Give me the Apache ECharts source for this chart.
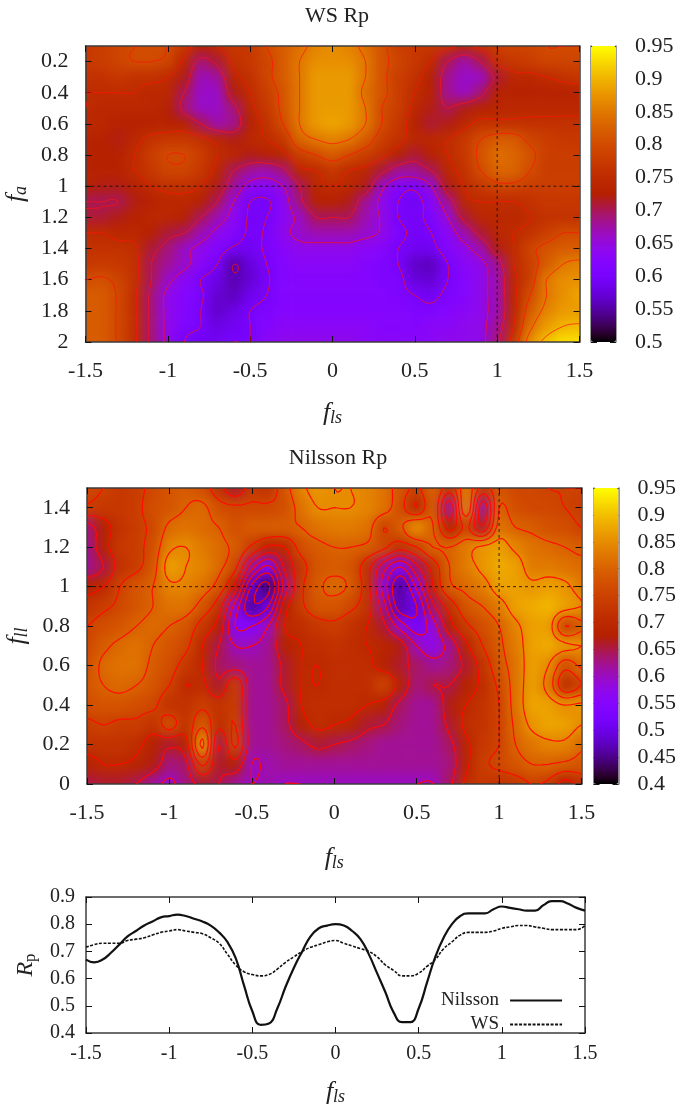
<!DOCTYPE html>
<html><head><meta charset="utf-8">
<style>
html,body{margin:0;padding:0;background:#fff;width:676px;height:1108px;overflow:hidden}
#under,#top{position:absolute;left:0;top:0;width:676px;height:1108px}
#clip{position:absolute;left:0;top:0;width:676px;height:1108px;
 clip-path:path('M85.5 46H579.5V342H85.5Z M87 488H581.5V784H87Z')}
#under{filter:blur(6px)}
</style>
<script src="https://cdn.jsdelivr.net/npm/echarts@6/dist/echarts.min.js"></script>
</head><body>
<div id="clip"><div id="under"></div></div>
<div id="top"></div>
<script>
const xCats=[-1.5,-1.4,-1.3,-1.2,-1.1,-1,-.9,-.8,-.7,-.6,-.5,-.4,-.3,-.2,-.1,0,.1,.2,.3,.4,.5,.6,.7,.8,.9,1,1.1,1.2,1.3,1.4,1.5];
const wsRows=[.1,.2,.3,.4,.5,.6,.7,.8,.9,1,1.1,1.2,1.3,1.4,1.5,1.6,1.7,1.8,1.9,2];
const wsGrid=[
[.77,.78,.79,.80,.80,.80,.77,.73,.75,.77,.77,.80,.82,.84,.86,.87,.86,.84,.81,.78,.77,.77,.76,.74,.76,.78,.79,.79,.80,.80,.80],
[.77,.78,.79,.80,.80,.79,.74,.69,.71,.76,.77,.79,.82,.85,.87,.87,.87,.85,.81,.79,.77,.75,.70,.67,.70,.76,.77,.78,.79,.79,.79],
[.76,.76,.77,.76,.76,.75,.72,.665,.675,.74,.76,.79,.82,.85,.88,.88,.88,.85,.81,.78,.76,.73,.68,.66,.66,.71,.74,.74,.75,.76,.77],
[.75,.75,.75,.75,.74,.74,.70,.66,.66,.72,.75,.78,.81,.85,.88,.88,.88,.84,.81,.78,.75,.73,.68,.66,.69,.73,.73,.73,.73,.73,.73],
[.75,.74,.74,.74,.74,.73,.69,.66,.66,.69,.74,.77,.81,.85,.88,.88,.88,.85,.80,.78,.74,.72,.70,.72,.73,.735,.74,.74,.74,.74,.74],
[.74,.74,.73,.73,.73,.73,.73,.70,.67,.68,.73,.76,.80,.85,.88,.89,.88,.85,.80,.77,.73,.71,.72,.74,.76,.76,.76,.76,.76,.76,.76],
[.73,.73,.72,.74,.76,.77,.77,.76,.74,.72,.74,.75,.77,.83,.85,.86,.85,.82,.78,.76,.74,.74,.75,.77,.80,.82,.82,.79,.78,.77,.77],
[.73,.73,.73,.75,.78,.80,.80,.78,.75,.74,.72,.73,.74,.78,.80,.82,.80,.78,.76,.73,.71,.73,.75,.77,.81,.84,.83,.81,.78,.78,.78],
[.73,.73,.73,.75,.77,.79,.79,.77,.74,.70,.68,.67,.69,.74,.75,.77,.75,.74,.71,.68,.68,.70,.74,.76,.80,.83,.83,.80,.78,.78,.78],
[.73,.72,.72,.73,.75,.76,.76,.75,.72,.68,.635,.63,.65,.70,.74,.75,.74,.72,.66,.62,.61,.65,.72,.75,.77,.79,.79,.78,.78,.78,.78],
[.70,.70,.70,.72,.73,.74,.74,.73,.70,.65,.60,.595,.63,.69,.73,.73,.72,.68,.64,.60,.59,.62,.68,.74,.75,.75,.75,.76,.77,.77,.77],
[.71,.71,.72,.73,.74,.74,.73,.70,.67,.635,.595,.60,.63,.66,.70,.70,.70,.67,.645,.60,.595,.61,.65,.71,.74,.74,.74,.75,.76,.76,.76],
[.75,.75,.74,.74,.73,.71,.70,.67,.64,.62,.595,.605,.64,.66,.67,.67,.67,.66,.645,.61,.595,.60,.63,.67,.71,.74,.75,.76,.78,.80,.80],
[.76,.76,.76,.755,.71,.69,.66,.64,.62,.595,.59,.605,.625,.64,.64,.64,.64,.63,.625,.60,.59,.59,.62,.64,.67,.72,.75,.79,.81,.82,.82],
[.77,.775,.77,.76,.70,.68,.66,.63,.60,.55,.575,.60,.62,.63,.63,.63,.63,.62,.61,.60,.565,.56,.60,.63,.64,.68,.75,.78,.82,.85,.86],
[.80,.805,.79,.76,.70,.66,.63,.60,.58,.555,.57,.595,.62,.62,.62,.62,.62,.62,.61,.61,.575,.57,.60,.62,.64,.67,.74,.78,.85,.87,.87],
[.82,.82,.795,.755,.69,.64,.62,.605,.57,.56,.585,.60,.62,.62,.62,.62,.62,.62,.62,.61,.60,.59,.61,.62,.64,.67,.74,.80,.85,.87,.89],
[.82,.82,.795,.755,.69,.64,.62,.60,.565,.58,.60,.61,.62,.62,.62,.62,.62,.62,.62,.62,.61,.61,.62,.63,.64,.67,.74,.82,.86,.88,.88],
[.82,.82,.795,.755,.69,.64,.61,.60,.58,.59,.60,.62,.63,.63,.63,.63,.63,.63,.62,.62,.62,.63,.63,.64,.64,.68,.75,.84,.88,.90,.905],
[.82,.82,.795,.755,.69,.64,.60,.59,.59,.60,.60,.63,.64,.64,.64,.64,.64,.63,.63,.63,.63,.63,.64,.64,.64,.69,.77,.87,.91,.93,.93]];
const nilRows=[1.5,1.4,1.3,1.2,1.1,1,.9,.8,.7,.6,.5,.4,.3,.2,.1,0];
const nilGrid=[
[.76,.75,.73,.74,.76,.78,.79,.77,.72,.66,.73,.72,.78,.84,.86,.85,.85,.84,.82,.78,.74,.80,.72,.83,.73,.78,.76,.76,.75,.75,.75],
[.74,.73,.73,.74,.77,.78,.80,.81,.77,.76,.76,.76,.77,.82,.85,.85,.85,.84,.82,.77,.70,.79,.62,.84,.62,.80,.77,.76,.76,.75,.74],
[.63,.68,.72,.74,.76,.81,.82,.81,.80,.77,.79,.79,.79,.80,.82,.83,.83,.82,.75,.79,.85,.80,.68,.76,.66,.82,.80,.79,.775,.77,.75],
[.62,.68,.73,.74,.77,.84,.85,.83,.81,.79,.74,.69,.70,.77,.79,.80,.80,.79,.76,.72,.75,.80,.80,.83,.86,.87,.84,.82,.81,.80,.79],
[.62,.65,.72,.74,.78,.87,.85,.84,.81,.76,.62,.54,.66,.73,.78,.79,.78,.72,.62,.55,.64,.72,.80,.83,.86,.88,.87,.83,.83,.82,.81],
[.68,.70,.75,.78,.80,.84,.84,.82,.78,.68,.49,.44,.62,.74,.79,.81,.79,.72,.58,.46,.56,.70,.79,.81,.83,.87,.87,.86,.87,.86,.83],
[.72,.74,.76,.78,.80,.82,.82,.78,.72,.58,.46,.50,.68,.74,.78,.78,.76,.72,.62,.47,.50,.64,.72,.78,.80,.83,.87,.88,.89,.87,.85],
[.75,.77,.78,.80,.81,.80,.78,.73,.68,.55,.55,.60,.70,.71,.73,.74,.72,.70,.66,.58,.52,.58,.68,.74,.77,.80,.84,.87,.87,.75,.79],
[.76,.79,.81,.82,.80,.78,.76,.70,.65,.60,.60,.62,.68,.70,.71,.72,.71,.70,.69,.67,.60,.57,.62,.69,.75,.79,.83,.87,.88,.86,.85],
[.77,.81,.82,.82,.79,.77,.73,.70,.64,.63,.62,.62,.66,.70,.70,.71,.71,.71,.68,.66,.64,.62,.63,.66,.72,.78,.82,.87,.85,.77,.81],
[.78,.80,.81,.80,.78,.75,.70,.71,.66,.74,.62,.62,.66,.70,.70,.71,.71,.71,.75,.68,.63,.65,.65,.68,.71,.76,.82,.87,.83,.71,.75],
[.77,.78,.78,.77,.76,.72,.72,.74,.72,.74,.62,.62,.64,.70,.71,.71,.71,.70,.68,.64,.62,.62,.67,.70,.72,.75,.82,.875,.87,.85,.86],
[.74,.75,.74,.74,.72,.77,.72,.79,.71,.75,.62,.62,.64,.68,.71,.70,.69,.66,.65,.63,.62,.62,.66,.71,.72,.75,.81,.86,.875,.87,.85],
[.72,.72,.72,.71,.68,.66,.68,.86,.65,.76,.62,.62,.63,.64,.66,.65,.64,.63,.62,.62,.62,.62,.64,.69,.73,.75,.80,.825,.84,.84,.81],
[.68,.70,.70,.69,.67,.63,.64,.76,.66,.68,.60,.61,.62,.62,.62,.62,.62,.62,.62,.62,.62,.62,.63,.69,.74,.76,.78,.80,.80,.79,.78],
[.65,.66,.66,.65,.62,.59,.63,.66,.65,.62,.60,.61,.60,.60,.60,.60,.60,.60,.60,.60,.60,.60,.64,.71,.73,.72,.73,.75,.74,.68,.72]];
const lineX=[-1.5,-1.45,-1.4,-1.35,-1.3,-1.25,-1.2,-1.15,-1.1,-1.05,-1,-.95,-.9,-.85,-.8,-.75,-.7,-.65,-.6,-.55,-.5,-.45,-.4,-.35,-.3,-.25,-.2,-.15,-.1,-.05,0,.05,.1,.15,.2,.25,.3,.35,.4,.45,.5,.55,.6,.65,.7,.75,.8,.85,.9,.95,1,1.05,1.1,1.15,1.2,1.25,1.3,1.35,1.4,1.45,1.5];
const nilsson=[.67,.66,.67,.695,.725,.755,.775,.795,.81,.825,.83,.835,.83,.82,.81,.795,.77,.735,.675,.575,.48,.43,.435,.49,.57,.64,.70,.755,.785,.795,.80,.795,.775,.745,.69,.62,.55,.475,.44,.44,.49,.585,.68,.75,.80,.83,.84,.84,.84,.855,.865,.86,.855,.85,.85,.87,.885,.885,.875,.86,.85];
const ws=[.715,.725,.73,.73,.73,.74,.745,.75,.76,.77,.775,.78,.775,.77,.765,.75,.73,.69,.65,.625,.615,.61,.615,.635,.66,.68,.70,.715,.725,.735,.74,.73,.72,.71,.70,.68,.65,.63,.61,.61,.62,.645,.67,.71,.735,.76,.77,.77,.77,.775,.785,.79,.795,.795,.79,.785,.78,.78,.78,.78,.795];
const wsLevels=[.55,.6,.65,.7,.75,.8,.85,.9];
const nilLevels=[.45,.5,.55,.6,.65,.7,.75,.8,.85,.9];
const ticksWs=[.2,.4,.6,.8,1,1.2,1.4,1.6,1.8,2];

const P1={l:85.5,t:46,w:494,h:296}, C1={l:591,t:46,w:25,h:296};
const P2={l:87,t:488,w:494.5,h:296}, C2={l:593.5,t:488,w:25,h:296};
const P3={l:86,t:897,w:499,h:136};
const SERIF='"Liberation Serif","Times New Roman",serif';
const colors=[];for(let i=0;i<=40;i++){const x=i/40;
 const c=v=>Math.round(255*Math.max(0,Math.min(1,v)));
 colors.push(`rgb(${c(Math.sqrt(x))},${c(x*x*x)},${c(Math.sin(2*Math.PI*x))})`);}

function padded(m,k){const out=[];const R=m.length,Cn=m[0].length;
 for(let r=-k;r<R+k;r++){const row=[];const rr=Math.max(0,Math.min(R-1,r));
  for(let c=-k;c<Cn+k;c++)row.push(m[rr][Math.max(0,Math.min(Cn-1,c))]);out.push(row);}return out;}
function heatParts(m,P,idx,k){
 const n=m[0].length,r=m.length,cw=P.w/(n-1),ch=P.h/(r-1),pm=padded(m,k);
 const data=[];pm.forEach((row,j)=>row.forEach((v,i)=>data.push([i,j,v])));
 return {grid:{outerBoundsMode:'none',left:P.l-(k+.5)*cw,top:P.t-(k+.5)*ch,width:cw*(n+2*k),height:ch*(r+2*k)},
  x:{type:'category',gridIndex:idx,show:false,data:pm[0].map((_,i)=>i)},
  y:{type:'category',gridIndex:idx,show:false,inverse:true,data:pm.map((_,i)=>i)},
  s:{type:'heatmap',xAxisIndex:idx,yAxisIndex:idx,data,progressive:0,itemStyle:{borderWidth:0}}};
}
const h1=heatParts(wsGrid,P1,0,2),h2=heatParts(nilGrid,P2,1,2);
echarts.init(document.getElementById('under'),null,{renderer:'canvas'}).setOption({
 animation:false,backgroundColor:'#fff',
 grid:[h1.grid,h2.grid],xAxis:[h1.x,h2.x],yAxis:[h1.y,h2.y],series:[h1.s,h2.s],
 visualMap:[{show:false,min:.5,max:.95,seriesIndex:0,inRange:{color:colors}},
            {show:false,min:.4,max:.95,seriesIndex:1,inRange:{color:colors}}]
});

function upsample(m,f){
 const R=m.length,Cn=m[0].length,g=(r,c)=>m[Math.max(0,Math.min(R-1,r))][Math.max(0,Math.min(Cn-1,c))];
 const cr=(a,b,c,d,t)=>.5*(2*b+(c-a)*t+(2*a-5*b+4*c-d)*t*t+(3*b-a-3*c+d)*t*t*t);
 const out=[];
 for(let i=0;i<=(R-1)*f;i++){const r=Math.floor(i/f),tr=i/f-r,row=[];
  for(let j=0;j<=(Cn-1)*f;j++){const c=Math.floor(j/f),tc=j/f-c,v=[];
   for(let q=-1;q<3;q++)v.push(cr(g(r+q,c-1),g(r+q,c),g(r+q,c+1),g(r+q,c+2),tc));
   row.push(cr(v[0],v[1],v[2],v[3],tr));}
  out.push(row);}
 return out;
}
function segments(m,xs,ys,lv,f){
 const u=upsample(m,f),segs=[];
 const X=j=>xs[0]+(xs[xs.length-1]-xs[0])*j/((xs.length-1)*f);
 const Y=i=>ys[0]+(ys[ys.length-1]-ys[0])*i/((ys.length-1)*f);
 for(let i=0;i<u.length-1;i++)for(let j=0;j<u[0].length-1;j++){
  const a=u[i][j],b=u[i][j+1],c=u[i+1][j+1],d=u[i+1][j],p=[];
  const e=(v0,v1,fn)=>{if((v0<lv)!==(v1<lv))p.push(fn((lv-v0)/(v1-v0)));};
  e(a,b,t=>[X(j+t),Y(i)]);e(b,c,t=>[X(j+1),Y(i+t)]);e(d,c,t=>[X(j+t),Y(i+1)]);e(a,d,t=>[X(j),Y(i+t)]);
  if(p.length>=2)segs.push([p[0],p[1]]);if(p.length===4)segs.push([p[2],p[3]]);
 }
 return segs;
}
function contourSeries(m,ys,levels,ax,stroke,lw){
 const all=levels.map(l=>segments(m,xCats,ys,l,5));
 return {type:'custom',coordinateSystem:'cartesian2d',xAxisIndex:ax,yAxisIndex:ax,clip:true,silent:true,z:3,
  data:levels.map((l,i)=>[0,ys[0],l,i]),
  renderItem(p,api){
   const segs=all[api.value(3)];let d='';
   for(const s of segs){const a=api.coord(s[0]),b=api.coord(s[1]);
    d+=`M${a[0].toFixed(1)} ${a[1].toFixed(1)}L${b[0].toFixed(1)} ${b[1].toFixed(1)}`;}
   return {type:'path',shape:{pathData:d},style:{fill:'none',stroke,lineWidth:lw}};
  }};
}

const grids=[],xAxes=[],yAxes=[],series=[];
const lineCol='#3c3c3c';
const nameRich={f:{fontFamily:SERIF,fontStyle:'italic',fontSize:26,color:'#222',lineHeight:30},
                s:{fontFamily:SERIF,fontStyle:'italic',fontSize:18,color:'#222',lineHeight:30,padding:[10,0,0,0]},
                r:{fontFamily:SERIF,fontStyle:'italic',fontSize:24,color:'#222',lineHeight:30},
                u:{fontFamily:SERIF,fontSize:17,color:'#222',lineHeight:30,padding:[10,0,0,0]}};
function mkGrid(P){return {outerBoundsMode:'none',left:P.l,top:P.t,width:P.w,height:P.h};}
function addPlot(P,opt){
 const gi=grids.length;grids.push(mkGrid(P));
 const base=xAxes.length;
 const tick={show:true,inside:true,length:6,lineStyle:{color:'#111',width:1}};
 const fs=opt.fs;
 const xa=(pos,lab)=>({type:'value',gridIndex:gi,position:pos,min:-1.5,max:1.5,interval:.5,
   axisLine:{show:true,onZero:false,lineStyle:{color:lineCol,width:1.5}},axisTick:tick,splitLine:{show:false},
   axisLabel:lab?{show:true,fontFamily:SERIF,fontSize:fs,color:'#222',margin:opt.xm,formatter:v=>String(v)}:{show:false},
   name:lab?opt.xName:'',nameLocation:'middle',nameGap:opt.xGap,nameTextStyle:{rich:nameRich}});
 const ya=(pos,lab)=>{const a={type:'value',gridIndex:gi,position:pos,min:opt.ymin,max:opt.ymax,inverse:!!opt.inv,
   axisLine:{show:true,onZero:false,lineStyle:{color:lineCol,width:1.5}},axisTick:tick,splitLine:{show:false},
   axisLabel:lab?{show:true,fontFamily:SERIF,fontSize:fs,color:'#222',margin:opt.ym}:{show:false},
   name:lab?opt.yName:'',nameLocation:'middle',nameGap:opt.yGap,nameRotate:90,nameTextStyle:{rich:nameRich}};
  if(opt.custom){a.axisTick=Object.assign({},tick,{customValues:opt.custom});a.axisLabel.customValues=opt.custom;}
  else a.interval=opt.yint;
  return a;};
 xAxes.push(xa('bottom',true),xa('top',false));
 yAxes.push(ya('left',true),ya('right',false));
 return base;
}
function addBar(C,min,max){
 const gi=grids.length;grids.push(mkGrid(C));
 const tick={show:true,inside:true,length:6,lineStyle:{color:'#111',width:1}};
 xAxes.push({type:'value',gridIndex:gi,show:false,min:0,max:1});
 yAxes.push({type:'value',gridIndex:gi,position:'right',min,max,interval:.05,
  axisLine:{show:true,onZero:false,lineStyle:{color:'#777',width:1.5}},axisTick:tick,splitLine:{show:false},
  axisLabel:{fontFamily:SERIF,fontSize:22,color:'#222',margin:19,formatter:v=>String(+v.toFixed(2))}});
 yAxes.push({type:'value',gridIndex:gi,position:'left',min,max,interval:.05,
  axisLine:{show:true,onZero:false,lineStyle:{color:'#777',width:1.5}},axisTick:tick,splitLine:{show:false},axisLabel:{show:false}});
 xAxes.push({type:'value',gridIndex:gi,show:false,min:0,max:1,position:'top'});
}
const a1=addPlot(P1,{fs:22,xm:18,ym:17,ymin:.1,ymax:2,inv:true,custom:ticksWs,
  xName:'{f|f}{s|ls}',xGap:56,yName:'{f|f}{s|a}',yGap:40});
addBar(C1,.5,.95);
const a2=addPlot(P2,{fs:22,xm:18,ym:17,ymin:0,ymax:1.5,yint:.2,
  xName:'{f|f}{s|ls}',xGap:59,yName:'{f|f}{s|ll}',yGap:42});
addBar(C2,.4,.95);
const a3=addPlot(P3,{fs:20,xm:11,ym:11,ymin:.4,ymax:.9,yint:.1,
  xName:'{f|f}{s|ls}',xGap:44,yName:'{r|R}{u|p}',yGap:44});

const refStyle={color:'#111',width:1,type:[3,3],opacity:.85};
function ref(ax,pts){return {type:'line',xAxisIndex:ax,yAxisIndex:ax,data:pts,showSymbol:false,symbol:'none',silent:true,z:4,lineStyle:refStyle};}
series.push(contourSeries(wsGrid,wsRows,wsLevels,a1,'rgba(255,20,10,.7)',1));
series.push(contourSeries(nilGrid,nilRows,nilLevels,a2,'rgba(255,10,0,.95)',1.2));
series.push(ref(a1,[[-1.5,1],[1.5,1]]),ref(a1,[[1,.1],[1,2]]));
series.push(ref(a2,[[-1.5,1],[1.5,1]]),ref(a2,[[1,0],[1,1.5]]));
series.push({name:'Nilsson',type:'line',xAxisIndex:a3,yAxisIndex:a3,smooth:.5,showSymbol:false,symbol:'none',
  data:lineX.map((x,i)=>[x,nilsson[i]]),lineStyle:{color:'#111',width:2.2},itemStyle:{color:'#111'}});
series.push({name:'WS',type:'line',xAxisIndex:a3,yAxisIndex:a3,smooth:.5,showSymbol:false,symbol:'none',
  data:lineX.map((x,i)=>[x,ws[i]]),lineStyle:{color:'#111',width:1.6,type:[3,1.5]},itemStyle:{color:'#111'}});

const barVM=(C,min,max)=>({type:'continuous',show:true,min,max,seriesIndex:[],calculable:false,realtime:false,hoverLink:false,
  left:C.l,top:C.t,itemWidth:C.w,itemHeight:C.h,padding:0,text:null,inRange:{color:colors},z:1,silent:true});

echarts.init(document.getElementById('top'),null,{renderer:'canvas'}).setOption({
 animation:false,backgroundColor:'transparent',
 title:[
  {text:'WS Rp',left:332,top:0,textAlign:'center',textStyle:{fontFamily:SERIF,fontSize:22,fontWeight:'normal',color:'#222'}},
  {text:'Nilsson Rp',left:333,top:442,textAlign:'center',textStyle:{fontFamily:SERIF,fontSize:22,fontWeight:'normal',color:'#222'}}
 ],
 grid:grids,xAxis:xAxes,yAxis:yAxes,series,
 visualMap:[barVM(C1,.5,.95),barVM(C2,.4,.95)],
 legend:{show:true,orient:'vertical',align:'right',left:441,top:991,itemWidth:52,itemHeight:14,itemGap:5,padding:0,
  itemStyle:{opacity:0},
  textStyle:{fontFamily:SERIF,fontSize:19,color:'#222',padding:[0,6,0,0]},data:['Nilsson','WS']}
});
</script>
</body></html>
